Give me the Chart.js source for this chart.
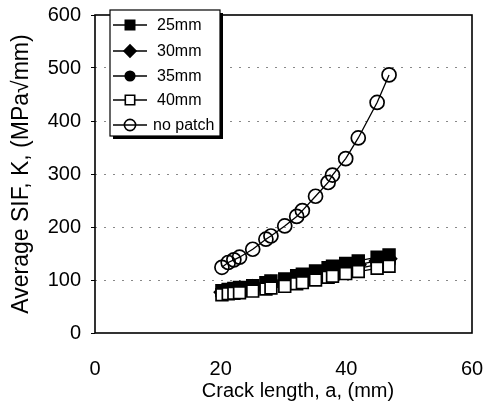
<!DOCTYPE html>
<html><head><meta charset="utf-8">
<script src="https://cdn.jsdelivr.net/npm/chart.js@4/dist/chart.umd.min.js"></script>
<style>html,body{margin:0;padding:0;background:#fff}#c{display:block}</style>
</head><body>
<canvas id="c" width="499" height="408"></canvas>
<script>
// Crack length, a (mm)
const crackLength = [20.2,21.2,22.1,23,25.1,27.2,28,30.2,32.1,33,35.1,37.1,37.8,39.9,41.9,44.9,46.8];
// Average SIF K (MPa√mm)
const k25mm    = [80,82,84,86,89,95,98,102,108,111,117,123,126,131,136,143,147];
const k30mm    = [77,79,81,83,86,91,94,97,103,106,111,117,120,125,129,136,140];
const k35mm    = [75,77,78,80,82,87,90,93,98,100,105,111,113,118,122,129,133];
const k40mm    = [72,74,75,76,79,83,85,88,93,95,100,105,107,112,116,122,126];
const kNoPatch = [124,133,138,143,158,177,183,202,220,231,258,284,298,329,368,435,487];
const seriesNames = ['25mm','30mm','35mm','40mm','no patch'];
const xTickValues = [0,20,40,60];
const yTickValues = [0,100,200,300,400,500,600];
const xTitle = 'Crack length, a, (mm)';
const yTitle = 'Average SIF, K, (MPa\u221Amm)';

const FONT = '"Liberation Sans", Arial, Helvetica, sans-serif';
const pts = arr => arr.map((v,i)=>({x:crackLength[i], y:v}));

const styles = [
  {pointStyle:'rect', radius:8.3, bg:'#000'},
  {pointStyle:'rectRot', radius:7.5, bg:'#000'},
  {pointStyle:'circle', radius:6, bg:'#000'},
  {pointStyle:'rect', radius:8.3, bg:'#fff'},
  {pointStyle:'circle', radius:7, bg:'rgba(0,0,0,0)'}
];
const values = [k25mm,k30mm,k35mm,k40mm,kNoPatch];

const datasets = values.map((v,i)=>({
  label: seriesNames[i],
  data: pts(v),
  borderColor:'#000',
  borderWidth:1.3,
  pointStyle: styles[i].pointStyle,
  pointRadius: styles[i].radius,
  pointBackgroundColor: styles[i].bg,
  pointBorderColor:'#000',
  pointBorderWidth:1.7,
  showLine:true,
  tension:0,
  order: i===4 ? 0 : 4-i
}));

const frameAndLegend = {
  id:'frameAndLegend',
  afterDraw(chart){
    const {ctx, chartArea:a} = chart;
    ctx.save();
    ctx.strokeStyle='#000';
    ctx.lineWidth=1.6;
    ctx.strokeRect(a.left, a.top, a.right-a.left, a.bottom-a.top);
    // x title
    ctx.fillStyle='#000';
    ctx.font='20px '+FONT;
    ctx.textAlign='center';
    ctx.textBaseline='middle';
    ctx.fillText(xTitle, 298, 391);
    // legend box
    const bx=110, by=10, bw=110, bh=126;
    ctx.fillStyle='#000';
    ctx.fillRect(bx+3, by+3, bw, bh);
    ctx.fillStyle='#fff';
    ctx.fillRect(bx, by, bw, bh);
    ctx.lineWidth=1.2;
    ctx.strokeRect(bx, by, bw, bh);
    const rowY=[25,51,76,100,125];
    ctx.font='16px '+FONT;
    ctx.textBaseline='middle';
    ctx.textAlign='left';
    seriesNames.forEach((n,i)=>{
      const y=rowY[i];
      ctx.strokeStyle='#000';
      ctx.lineWidth=1.3;
      ctx.beginPath(); ctx.moveTo(113,y); ctx.lineTo(147,y); ctx.stroke();
      ctx.fillStyle=styles[i].bg;
      ctx.strokeStyle='#000';
      ctx.lineWidth=1.6;
      Chart.helpers.drawPoint(ctx,{pointStyle:styles[i].pointStyle, radius:styles[i].radius*0.8, rotation:0, borderWidth:1.6},130,y);
      ctx.fillStyle='#000';
      ctx.fillText(n, i===4?153:157, y+1);
    });
    ctx.restore();
  }
};

new Chart(document.getElementById('c'),{
  type:'scatter',
  data:{datasets},
  options:{
    responsive:false,
    animation:false,
    devicePixelRatio:1,
    layout:{padding:{top:15,right:27,left:0,bottom:0}},
    plugins:{legend:{display:false},tooltip:{enabled:false}},
    scales:{
      x:{
        type:'linear', min:0, max:60,
        afterBuildTicks:s=>{s.ticks=xTickValues.map(v=>({value:v}));},
        afterFit:s=>{s.height=75; s.paddingLeft=0; s.paddingRight=0;},
        grid:{drawOnChartArea:false, drawTicks:false},
        border:{display:false},
        ticks:{color:'#000', font:{family:FONT,size:20}, padding:24},
        title:{display:false}
      },
      y:{
        type:'linear', min:0, max:600,
        afterBuildTicks:s=>{s.ticks=yTickValues.map(v=>({value:v}));},
        afterFit:s=>{s.width=95; s.paddingTop=0; s.paddingBottom=0;},
        grid:{
          color:c=>(c.tick && (c.tick.value===0||c.tick.value===600))?'rgba(0,0,0,0)':'#888',
          lineWidth:1, tickLength:4, tickColor:'#000', drawTicks:true
        },
        border:{display:false, dash:[2,7]},
        ticks:{color:'#000', font:{family:FONT,size:20}, padding:10},
        title:{display:true, text:yTitle, color:'#000', font:{family:FONT,size:23}, padding:{top:8,bottom:0}}
      }
    }
  },
  plugins:[frameAndLegend]
});
</script>
</body></html>
